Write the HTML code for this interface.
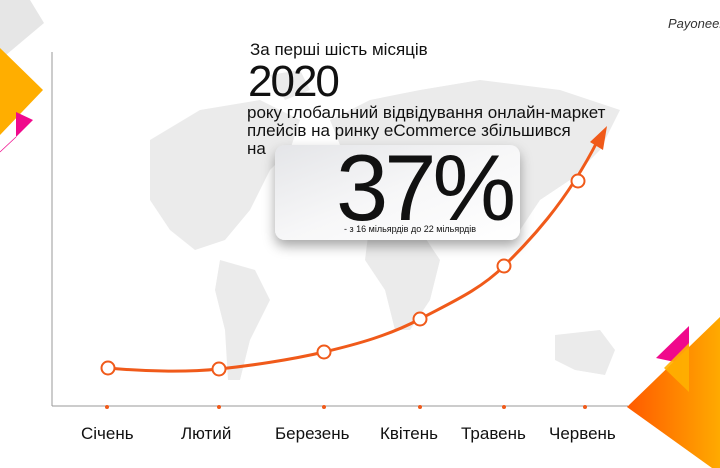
<!DOCTYPE html>
<html><head><meta charset="utf-8"><style>
body{margin:0;width:720px;height:468px;overflow:hidden;background:#fff;font-family:"Liberation Sans","DejaVu Sans",sans-serif}
.t{position:absolute;color:#111;white-space:nowrap}
</style></head><body>
<svg width="720" height="468" style="position:absolute;left:0;top:0">
<defs>
<linearGradient id="og" x1="0" x2="1"><stop offset="0" stop-color="#ff5a00"/><stop offset="1" stop-color="#ffaa00"/></linearGradient>
<linearGradient id="cg" x1="0" x2="1" y1="0" y2="1"><stop offset="0" stop-color="#e4e5e8"/><stop offset="0.5" stop-color="#f7f7f8"/><stop offset="1" stop-color="#ffffff"/></linearGradient>
<filter id="sh" x="-20%" y="-20%" width="140%" height="160%"><feDropShadow dx="0" dy="6" stdDeviation="6" flood-color="#000" flood-opacity="0.35"/></filter>
</defs>
<g fill="#ebebeb">
<path d="M150 140 L200 110 L260 100 L300 120 L290 150 L270 170 L250 210 L225 240 L195 250 L170 230 L150 200 Z"/>
<path d="M220 260 L255 270 L270 300 L250 340 L240 380 L228 380 L225 330 L215 290 Z"/>
<path d="M330 120 L370 100 L420 90 L480 80 L560 90 L620 110 L600 150 L570 180 L540 200 L520 230 L480 220 L450 210 L420 220 L380 200 L350 170 Z"/>
<path d="M370 220 L420 230 L440 260 L430 300 L410 330 L395 330 L385 290 L365 260 Z"/>
<path d="M555 335 L600 330 L615 350 L605 375 L575 370 L555 360 Z"/>
<path d="M270 75 L300 70 L310 90 L285 100 Z"/>
</g>
<polygon points="0,0 30,0 44,23 0,60" fill="#e6e6e6"/>
<polygon points="0,48 43,90 0,135" fill="#ffae00"/>
<polygon points="16,112 33,120 16,137" fill="#f0098c"/>
<line x1="16" y1="137" x2="0" y2="152" stroke="#f0098c" stroke-width="0.7"/>
<line x1="52" y1="52" x2="52" y2="406" stroke="#999" stroke-width="1"/>
<line x1="52" y1="406" x2="628" y2="406" stroke="#999" stroke-width="1"/>
<polygon points="656,358 689,326 689,365" fill="#f0098c"/>
<polygon points="627,407 720,317 720,468 712,468" fill="url(#og)"/>
<polygon points="664,368 689,343 689,392" fill="#ffb000" opacity="0.9"/>
<rect x="275" y="145" width="245" height="95" rx="10" fill="url(#cg)" filter="url(#sh)"/>
<path d="M108 368 C150 372 190 372 219 369 S290 360 324 352 S390 335 420 319 S480 290 504 266 S565 205 598 140" fill="none" stroke="#f05a1a" stroke-width="3"/>
<polygon points="607,126 590,142 603,150" fill="#f05a1a"/>
<g fill="#fff" stroke="#f05a1a" stroke-width="2">
<circle cx="108" cy="368" r="6.5"/><circle cx="219" cy="369" r="6.5"/><circle cx="324" cy="352" r="6.5"/><circle cx="420" cy="319" r="6.5"/><circle cx="504" cy="266" r="6.5"/><circle cx="578" cy="181" r="6.5"/>
</g>
<g fill="#f05a1a"><circle cx="107" cy="407" r="2"/><circle cx="219" cy="407" r="2"/><circle cx="324" cy="407" r="2"/><circle cx="420" cy="407" r="2"/><circle cx="504" cy="407" r="2"/><circle cx="585" cy="407" r="2"/></g>
</svg>
<div class="t" style="left:668px;top:16px;font-size:13px;font-style:italic;color:#333">Payoneer</div>
<div class="t" style="left:250px;top:40px;font-size:17px">За перші шість місяців</div>
<div class="t" style="left:248px;top:60px;font-size:44px;letter-spacing:-2px;line-height:44px">2020</div>
<div class="t" style="left:247px;top:104px;font-size:17px;line-height:18px">року глобальний відвідування онлайн-маркет<br>плейсів на ринку eCommerce збільшився<br>на</div>
<div class="t" style="left:336px;top:138px;font-size:94px;line-height:100px;letter-spacing:-4px">37%</div>
<div class="t" style="left:344px;top:224px;font-size:9px">- з 16 мільярдів до 22 мільярдів</div>
<div class="t" style="left:81px;top:424px;font-size:17px">Січень</div>
<div class="t" style="left:181px;top:424px;font-size:17px">Лютий</div>
<div class="t" style="left:275px;top:424px;font-size:17px">Березень</div>
<div class="t" style="left:380px;top:424px;font-size:17px">Квітень</div>
<div class="t" style="left:461px;top:424px;font-size:17px">Травень</div>
<div class="t" style="left:549px;top:424px;font-size:17px">Червень</div>
</body></html>
